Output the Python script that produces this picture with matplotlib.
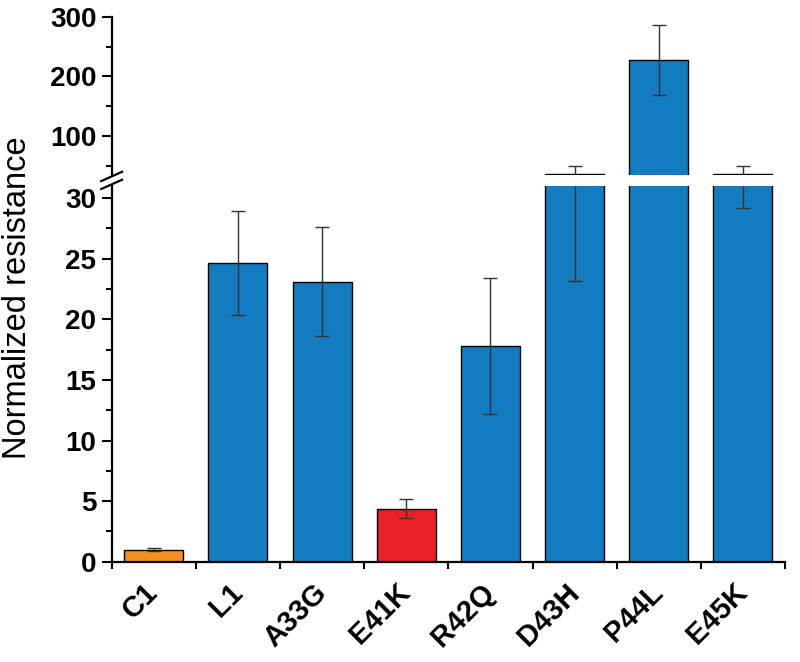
# normalized resistance per variant, broken y axis

import matplotlib
matplotlib.use('Agg')
import matplotlib.pyplot as plt
from matplotlib.lines import Line2D
from matplotlib.ticker import MultipleLocator, FixedLocator

labels = ['C1', 'L1', 'A33G', 'E41K', 'R42Q', 'D43H', 'P44L', 'E45K']
values = [1.0, 24.64, 23.1, 4.35, 17.84, 35.5, 228.0, 35.5]
err_low = [0.12, 4.3, 4.5, 0.78, 5.65, 12.3, 59.5, 6.3]
err_high = [0.12, 4.3, 4.55, 0.8, 5.6, 14.1, 58.5, 12.9]
colors = ['#f39022', '#137cc0', '#137cc0', '#ea2027', '#137cc0',
          '#137cc0', '#137cc0', '#137cc0']

plt.rcParams['font.family'] = ['Liberation Sans', 'DejaVu Sans']

fig = plt.figure(figsize=(8, 6.62), dpi=100)
ax_lo = fig.add_axes([0.1396, 0.1515, 0.8417, 0.5675])
ax_hi = fig.add_axes([0.1396, 0.7356, 0.8417, 0.2387])

x = list(range(len(labels)))
for ax in (ax_lo, ax_hi):
    ax.bar(x, values, width=0.7, color=colors, edgecolor='black', linewidth=1.0)
    ax.errorbar(x, values, yerr=[err_low, err_high], fmt='none', ecolor='#333333',
                elinewidth=1.0, capsize=5, capthick=1.0)
    ax.set_xlim(-0.5, 7.5)
    ax.spines['top'].set_visible(False)
    ax.spines['right'].set_visible(False)
    ax.spines['left'].set_linewidth(1.6)
    ax.spines['bottom'].set_linewidth(1.6)
    ax.tick_params(axis='y', which='major', direction='out', length=7, width=1.5, pad=4)
    ax.tick_params(axis='y', which='minor', direction='out', length=4, width=1.5)

# lower part
ax_lo.set_ylim(0, 31)
ax_lo.yaxis.set_major_locator(FixedLocator([0, 5, 10, 15, 20, 25, 30]))
ax_lo.yaxis.set_minor_locator(MultipleLocator(2.5))
ax_lo.set_yticklabels(['0', '5', '10', '15', '20', '25', '30'], fontweight='bold', fontsize=20)
ax_lo.xaxis.set_major_locator(FixedLocator([i - 0.5 for i in range(len(labels) + 1)]))
ax_lo.xaxis.set_major_formatter(plt.NullFormatter())
ax_lo.set_xticks(x, labels, minor=True, fontsize=21, fontweight='bold',
                 rotation=45, ha='right', va='center', rotation_mode='anchor')
ax_lo.tick_params(axis='x', which='major', direction='out', length=5, width=1.5)
ax_lo.tick_params(axis='x', which='minor', length=0, pad=19)

# upper part
ax_hi.set_ylim(34, 300)
ax_hi.yaxis.set_major_locator(FixedLocator([100, 200, 300]))
ax_hi.yaxis.set_minor_locator(FixedLocator([50, 150, 250]))
ax_hi.set_yticklabels(['100', '200', '300'], fontweight='bold', fontsize=20)
ax_hi.spines['bottom'].set_visible(False)
ax_hi.set_xticks([])

# break marks on the y axis
x0 = 0.1396
for yc in (0.7335, 0.7215):
    fig.add_artist(Line2D([x0 - 0.013, x0 + 0.013], [yc - 0.007, yc + 0.007],
                          transform=fig.transFigure, color='black', linewidth=1.6))

fig.text(0.022, 0.55, 'Normalized resistance', rotation=90, va='center', ha='center',
         fontsize=23.5)

plt.savefig('out.png', dpi=100)
